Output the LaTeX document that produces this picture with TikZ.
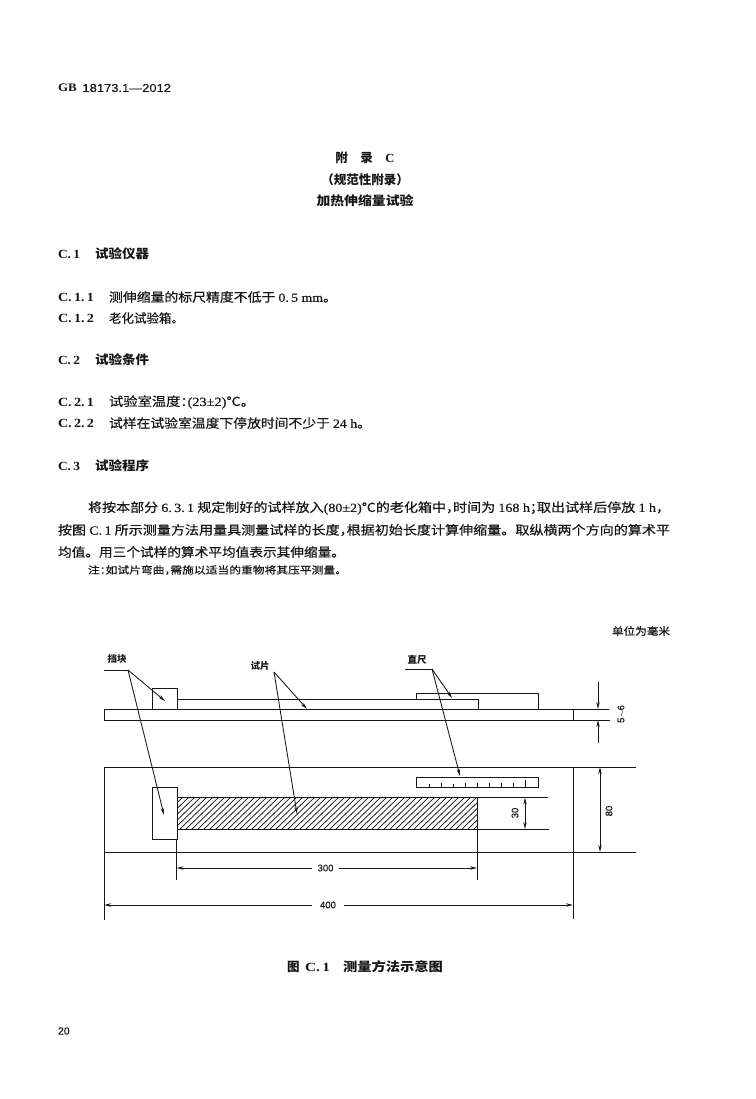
\documentclass[tikz,border=0pt]{standalone}
\usepackage{fontspec}
\usepackage{graphicx}
\setmainfont{Noto Sans CJK SC}[FakeBold=0.3,BoldFeatures={FakeBold=0}]
\newfontfamily\lat{Liberation Serif}[FakeBold=0.25,BoldFeatures={FakeBold=0}]
\newfontfamily\latsans{Liberation Sans}[FakeBold=0.3]
\newcommand{\LL}[1]{{\lat #1}}
\newcommand{\hw}[1]{\makebox[.5em][l]{#1}}
\newcommand{\fitto}[2]{\resizebox{#1pt}{\height}{#2}}
\definecolor{ink}{HTML}{161616}
\tikzset{
  every node/.style={inner sep=0pt,outer sep=0pt,text=ink},
  ln/.style={draw=ink,line width=1pt},
  thin ln/.style={draw=ink,line width=0.85pt},
  arr/.style={thin ln,-{Stealth[length=7pt,width=3.4pt]}},
  txt/.style={anchor=west,font=\fontsize{12.5}{14}\selectfont},
  head/.style={anchor=west,font=\fontsize{12.5}{14}\selectfont\bfseries},
  mid/.style={anchor=center,font=\fontsize{12.5}{14}\selectfont\bfseries},
  lab/.style={anchor=center,font=\fontsize{9.5}{10}\selectfont\bfseries},
  dim/.style={anchor=center,font=\latsans\fontsize{9.5}{10}\selectfont},
}
\usetikzlibrary{arrows.meta}
\begin{document}
\begin{tikzpicture}[x=1pt,y=-1pt]
\useasboundingbox (0,0) rectangle (755,1099);
\fill[white] (0,0) rectangle (755,1099);

% page text
\node[anchor=west,font=\fontsize{11.5}{13}\selectfont] (hdr) at (58,88) {\fitto{113}{{\lat\bfseries GB}\ \ {\latsans 18173.1—2012}}};
\node[mid] (t1) at (365,158) {附\hspace{1em}录\hspace{1em}\LL{\bfseries C}};
\node[mid] (t2) at (365,180) {（规范性附录）};
\node[mid] (t3) at (365,201) {\fitto{97}{加热伸缩量试验}};

\node[head] (c1n) at (58,254) {\fitto{22}{\LL{\bfseries C.\,1}}};
\node[head] (c1) at (95,254) {\fitto{54}{试验仪器}};
\node[txt] (c11n) at (58,297) {\fitto{36}{\LL{\bfseries C.\,1.\,1}}};
\node[txt] (c11) at (109,297) {\fitto{228}{测伸缩量的标尺精度不低于 \LL{0.\,5 mm}。}};
\node[txt] (c12n) at (58,318) {\fitto{36}{\LL{\bfseries C.\,1.\,2}}};
\node[txt] (c12) at (109,318) {老化试验箱。};
\node[head] (c2n) at (58,360) {\fitto{22}{\LL{\bfseries C.\,2}}};
\node[head] (c2) at (95,360) {\fitto{54}{试验条件}};
\node[txt] (c21n) at (58,402) {\fitto{36}{\LL{\bfseries C.\,2.\,1}}};
\node[txt] (c21) at (109,402) {\fitto{146}{试验室温度\hw{：}\LL{(23±2)}℃。}};
\node[txt] (c22n) at (58,423) {\fitto{36}{\LL{\bfseries C.\,2.\,2}}};
\node[txt] (c22) at (109,423) {\fitto{262}{试样在试验室温度下停放时间不少于 \LL{24 h}。}};
\node[head] (c3n) at (58,466) {\fitto{22}{\LL{\bfseries C.\,3}}};
\node[head] (c3) at (95,466) {\fitto{54}{试验程序}};

\node[txt] (p1) at (88,508) {\fitto{582}{将按本部分 \LL{6.\,3.\,1} 规定制好的试样放入\LL{(80±2)}℃的老化箱中\hw{，}时间为 \LL{168 h}\hw{；}取出试样后停放 \LL{1 h}，}};
\node[txt] (p2) at (58,530) {\fitto{612}{按图 \LL{C.\,1} 所示测量方法用量具测量试样的长度\hw{，}根据初始长度计算伸缩量。取纵横两个方向的算术平}};
\node[txt] (p3) at (58,552) {\fitto{287}{均值。用三个试样的算术平均值表示其伸缩量。}};
\node[anchor=west,font=\fontsize{10}{12}\selectfont] (p4) at (88,570) {\fitto{259}{注\hw{：}如试片弯曲\hw{，}需施以适当的重物将其压平测量。}};

\node[anchor=center,font=\fontsize{10.5}{12}\selectfont] (unit) at (641,631) {\fitto{58}{单位为毫米}};
\node[head] (cap1) at (287,967) {图};
\node[head] (cap2) at (305,967) {\fitto{25}{\LL{\bfseries C.\,1}}};
\node[head] (cap3) at (343,967) {\fitto{100}{测量方法示意图}};
\node[anchor=west,font=\latsans\fontsize{10.5}{12}\selectfont] (pg) at (58,1031) {20};

% side view
\node[lab] (ldk) at (117,659) {挡块};
\node[lab] (lsp) at (260,666) {试片};
\node[lab] (lzc) at (417,660) {直尺};
\coordinate (dkfoot) at (104,670);
\coordinate (dkhub) at (128,670);
\coordinate (sphub) at (274,672);
\coordinate (zcfoot) at (405,669);
\coordinate (zchub) at (432,669);

\draw[ln] (104,709) rectangle (573,720);
\draw[ln] (152,709) -- (152,688) -- (177,688) -- (177,709);
\draw[ln] (177,699) -- (478,699) -- (478,709);
\draw[ln] (416,699) -- (416,693) -- (538,693) -- (538,709);

% top view
\draw[ln] (104,767) rectangle (573,852);
\draw[ln] (152,787) rectangle (177,839);
\begin{scope}
  \clip (177,797.5) rectangle (477,829);
  \foreach \h in {150,156,...,480}
    \draw[draw=ink,line width=0.75pt] (\h,829) -- (\h+33,797);
\end{scope}
\draw[ln] (177,797.5) rectangle (477,829);
\node[draw=ink,line width=1pt,minimum width=122pt,minimum height=10pt,anchor=north west] (rul) at (416,777) {};
\foreach \t/\l in {429/3,441/4,453/3,465/4,477/4,489/4,501/4,513/4,525/7}
  \draw[ln] (\t,787) -- (\t,787-\l);

% extension lines
\draw[thin ln] (573,767) -- (636,767);
\draw[thin ln] (573,852) -- (636,852);
\draw[thin ln] (477,797.5) -- (548,797.5);
\draw[thin ln] (477,829) -- (549,829);
\draw[thin ln] (573,709) -- (609,709);
\draw[thin ln] (573,720) -- (610,720);
\draw[thin ln] (104,852) -- (104,920);
\draw[thin ln] (573,852) -- (573,919);
\draw[thin ln] (176.5,839) -- (176.5,880);
\draw[thin ln] (477,829) -- (477,880);

% dimensions
\coordinate (a5t) at (598,682); \coordinate (a5te) at (598,709);
\coordinate (a5b) at (598,743); \coordinate (a5be) at (598,720);
\draw[arr] (a5t) -- (a5te);
\draw[arr] (a5b) -- (a5be);
\node[dim,rotate=90] (d56) at (621,714) {5$\sim$6};
\coordinate (a80t) at (600,767); \coordinate (a80b) at (600,852);
\draw[arr,{Stealth[length=7pt,width=3.4pt]}-{Stealth[length=7pt,width=3.4pt]}] (a80t) -- (a80b);
\node[dim,rotate=90] (d80) at (609,811) {80};
\coordinate (a30t) at (525,797.5); \coordinate (a30b) at (525,829);
\draw[arr,{Stealth[length=7pt,width=3.4pt]}-{Stealth[length=7pt,width=3.4pt]}] (a30t) -- (a30b);
\node[dim,rotate=90] (d30) at (515,813) {30};
\node[dim,fill=white,minimum width=27pt,minimum height=8pt] (d300) at (325.5,868) {300};
\coordinate (l300) at (176.5,868); \coordinate (r300) at (477,868);
\draw[arr] (d300) -- (l300);
\draw[arr] (d300) -- (r300);
\node[dim,fill=white,minimum width=32pt,minimum height=8pt] (d400) at (328,905) {400};
\coordinate (l400) at (104,905); \coordinate (r400) at (573,905);
\draw[arr] (d400) -- (l400);
\draw[arr] (d400) -- (r400);

% leaders
\coordinate (dkA) at (165,701); \coordinate (dkB) at (164,815);
\coordinate (spA) at (307,709); \coordinate (spB) at (297,814);
\coordinate (zcA) at (452,698); \coordinate (zcB) at (460,776);
\draw[thin ln] (dkfoot) -- (dkhub);
\draw[thin ln] (zcfoot) -- (zchub);
\draw[arr] (dkhub) -- (dkA);
\draw[arr] (dkhub) -- (dkB);
\draw[arr] (sphub) -- (spA);
\draw[arr] (sphub) -- (spB);
\draw[arr] (zchub) -- (zcA);
\draw[arr] (zchub) -- (zcB);
\end{tikzpicture}
\end{document}
